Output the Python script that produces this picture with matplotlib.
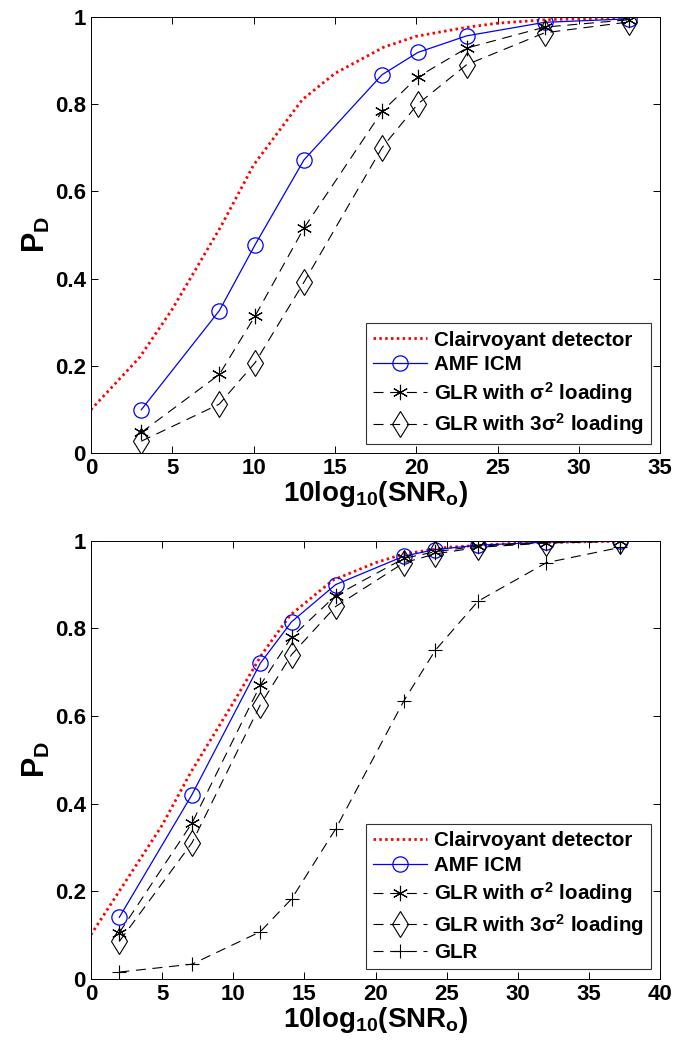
import matplotlib

matplotlib.use("Agg")
import matplotlib.pyplot as plt

plt.rcParams["font.family"] = ["Liberation Sans", "DejaVu Sans"]
plt.rcParams["font.weight"] = "bold"
plt.rcParams["mathtext.fontset"] = "custom"
plt.rcParams["mathtext.rm"] = "Liberation Sans:bold"
plt.rcParams["mathtext.it"] = "Liberation Sans:bold"
plt.rcParams["mathtext.bf"] = "Liberation Sans:bold"
plt.rcParams["mathtext.sf"] = "Liberation Sans:bold"

# ---- top panel data ----
top_clair_x = [0, 3, 5, 8, 10, 13, 15, 18, 20, 23, 25, 28, 33]
top_clair_y = [0.10, 0.22, 0.33, 0.52, 0.66, 0.81, 0.87, 0.93, 0.955, 0.975, 0.985, 0.993, 0.998]
top_x = [3.1, 7.9, 10.1, 13.1, 17.9, 20.1, 23.1, 27.9, 33.1]
top_amf = [0.100, 0.327, 0.478, 0.672, 0.867, 0.918, 0.956, 0.987, 0.995]
top_glr_s2 = [0.048, 0.181, 0.315, 0.516, 0.783, 0.862, 0.928, 0.976, 0.993]
top_glr_3s2 = [0.028, 0.113, 0.208, 0.392, 0.700, 0.800, 0.890, 0.963, 0.988]

# ---- bottom panel data ----
bot_clair_x = [0, 2, 5, 7, 10, 12, 14, 17, 20, 22, 25, 30, 37]
bot_clair_y = [0.10, 0.20, 0.35, 0.47, 0.63, 0.74, 0.83, 0.91, 0.95, 0.97, 0.985, 0.995, 0.999]
bot_x = [2.0, 7.1, 11.9, 14.1, 17.2, 22.0, 24.2, 27.2, 32.0, 37.2]
bot_amf = [0.140, 0.420, 0.720, 0.815, 0.900, 0.965, 0.980, 0.990, 0.997, 0.999]
bot_glr_s2 = [0.105, 0.355, 0.670, 0.780, 0.875, 0.960, 0.975, 0.988, 0.996, 0.999]
bot_glr_3s2 = [0.085, 0.310, 0.625, 0.740, 0.850, 0.950, 0.970, 0.985, 0.995, 0.999]
bot_glr = [0.015, 0.033, 0.107, 0.182, 0.342, 0.635, 0.750, 0.862, 0.950, 0.985]

labels = [
    "Clairvoyant detector",
    "AMF ICM",
    r"GLR with $\sigma^2$ loading",
    r"GLR with 3$\sigma^2$ loading",
    "GLR",
]

DASH = (0, (9, 6))


def style_axes(ax, xmax, xstep):
    ax.set_xlim(0, xmax)
    ax.set_ylim(0, 1)
    ax.set_xticks(range(0, xmax + 1, xstep))
    ax.set_yticks([0, 0.2, 0.4, 0.6, 0.8, 1.0])
    ax.set_yticklabels(["0", "0.2", "0.4", "0.6", "0.8", "1"])
    ax.tick_params(direction="in", top=True, right=True, labelsize=16, length=5, width=0.7)
    for lab in ax.get_xticklabels() + ax.get_yticklabels():
        lab.set_fontweight("bold")
    for sp in ax.spines.values():
        sp.set_linewidth(0.7)
    ax.set_xlabel(r"$10log_{10}(SNR_o)$", fontsize=20, labelpad=0)
    ax.set_ylabel(r"$P_D$", fontsize=22, labelpad=2)


def draw(ax, cx, cy, x, amf, s2, s32, glr=None):
    ax.plot(cx, cy, color="red", linestyle=(0, (0.9, 1.2)), linewidth=2.0, label=labels[0])
    ax.plot(x, amf, color="blue", linewidth=0.9, marker="o", markersize=11,
            markerfacecolor="none", markeredgewidth=0.9, label=labels[1])
    ax.plot(x, s2, color="black", linewidth=0.8, linestyle=DASH, marker=(6, 2, 0),
            markersize=11, markeredgewidth=0.8, label=labels[2])
    ax.plot(x, s32, color="black", linewidth=0.8, linestyle=DASH, marker="d",
            markersize=13, markerfacecolor="none", markeredgewidth=0.8, label=labels[3])
    if glr is not None:
        ax.plot(x, glr, color="black", linewidth=0.8, linestyle=DASH, marker="+",
                markersize=10, markeredgewidth=0.8, label=labels[4])
    leg = ax.legend(loc="lower right", fontsize=14.8, frameon=True, fancybox=False,
                    edgecolor="black", handlelength=2.6, handletextpad=0.35,
                    borderaxespad=0.45, labelspacing=0.27, borderpad=0.35)
    leg.get_frame().set_linewidth(0.8)
    for t in leg.get_texts():
        t.set_fontweight("bold")


fig = plt.figure(figsize=(6.73, 10.4), dpi=100)
ax1 = fig.add_axes([0.135, 0.564, 0.846, 0.420])
ax2 = fig.add_axes([0.135, 0.059, 0.846, 0.421])

draw(ax1, top_clair_x, top_clair_y, top_x, top_amf, top_glr_s2, top_glr_3s2)
style_axes(ax1, 35, 5)

draw(ax2, bot_clair_x, bot_clair_y, bot_x, bot_amf, bot_glr_s2, bot_glr_3s2, bot_glr)
style_axes(ax2, 40, 5)

fig.savefig("out.png", dpi=100)
